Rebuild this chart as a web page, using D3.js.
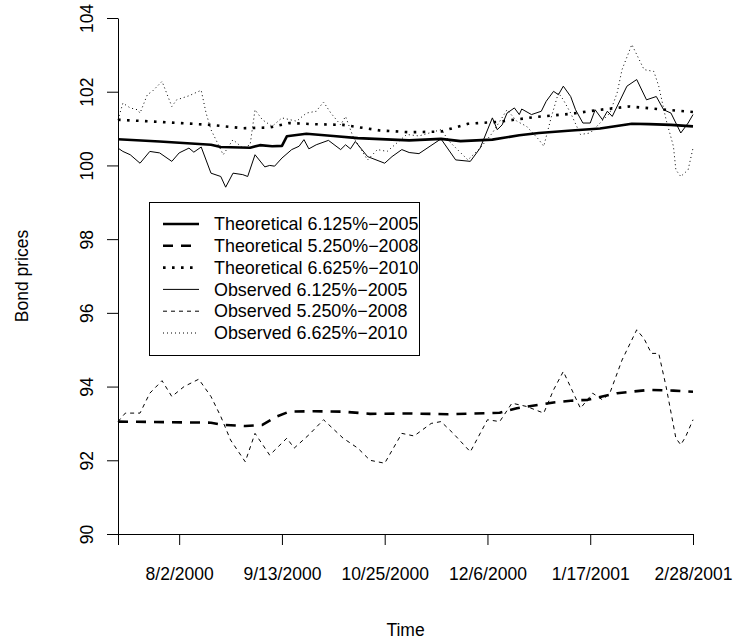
<!DOCTYPE html>
<html>
<head>
<meta charset="utf-8">
<script src="https://cdn.jsdelivr.net/npm/d3@7"></script>
<style>
  html, body { margin: 0; padding: 0; background: #fff; }
  svg text { font-family: "Liberation Sans", Arial, Helvetica, sans-serif; fill: #000; }
</style>
</head>
<body>
<svg id="chart" width="733" height="643"></svg>
<script>
// Bond prices, July 2000 – February 2001: model (theoretical) vs observed prices

const dateRange = ["2000-07-08", "2001-02-28"];
const yTicks = [90, 92, 94, 96, 98, 100, 102, 104];
const xTickDates = ["2000-07-08", "2000-08-02", "2000-09-13", "2000-10-25", "2000-12-06", "2001-01-17", "2001-02-28"];
const xTickLabels = ["", "8/2/2000", "9/13/2000", "10/25/2000", "12/6/2000", "1/17/2001", "2/28/2001"];

const legendLabels = [
  "Theoretical 6.125%\u22122005",
  "Theoretical 5.250%\u22122008",
  "Theoretical 6.625%\u22122010",
  "Observed 6.125%\u22122005",
  "Observed 5.250%\u22122008",
  "Observed 6.625%\u22122010"
];

// Theoretical prices
const theo2005 = [
  ["2000-07-08",100.71],["2000-07-25",100.65],["2000-08-15",100.56],["2000-08-19",100.50],
  ["2000-08-31",100.48],["2000-09-04",100.55],["2000-09-09",100.52],["2000-09-13",100.53],
  ["2000-09-15",100.79],["2000-09-23",100.86],["2000-10-04",100.80],["2000-10-14",100.74],
  ["2000-11-04",100.68],["2000-11-17",100.72],["2000-11-25",100.66],["2000-12-08",100.70],
  ["2000-12-19",100.82],["2000-12-27",100.88],["2001-01-08",100.94],["2001-01-21",101.00],
  ["2001-02-03",101.13],["2001-02-10",101.12],["2001-02-19",101.10],["2001-02-28",101.06]
];
const theo2008 = [
  ["2000-07-08",93.05],["2000-08-15",93.02],["2000-08-20",92.96],["2000-08-29",92.93],
  ["2000-09-05",92.96],["2000-09-11",93.19],["2000-09-16",93.32],["2000-09-26",93.33],
  ["2000-10-08",93.32],["2000-10-19",93.26],["2000-11-04",93.27],["2000-11-20",93.25],
  ["2000-12-11",93.29],["2000-12-18",93.41],["2001-01-02",93.57],["2001-01-10",93.62],
  ["2001-01-16",93.64],["2001-01-28",93.82],["2001-02-10",93.91],["2001-02-20",93.89],
  ["2001-02-28",93.86]
];
const theo2010 = [
  ["2000-07-08",101.24],["2000-07-28",101.17],["2000-08-15",101.10],["2000-08-28",101.01],
  ["2000-09-08",101.03],["2000-09-16",101.15],["2000-09-26",101.12],["2000-10-08",101.10],
  ["2000-10-23",100.95],["2000-11-04",100.90],["2000-11-17",100.92],["2000-11-28",101.13],
  ["2000-12-10",101.18],["2000-12-25",101.31],["2001-01-09",101.40],["2001-01-21",101.51],
  ["2001-02-02",101.60],["2001-02-17",101.51],["2001-02-28",101.45]
];

// Observed market prices
const obs2005 = [
  ["2000-07-08",100.47],["2000-07-10",100.38],["2000-07-13",100.29],["2000-07-17",100.06],
  ["2000-07-21",100.38],["2000-07-25",100.34],["2000-07-30",100.11],["2000-08-02",100.34],
  ["2000-08-06",100.47],["2000-08-08",100.36],["2000-08-11",100.50],["2000-08-15",99.79],
  ["2000-08-19",99.70],["2000-08-21",99.41],["2000-08-24",99.79],["2000-08-28",99.75],
  ["2000-08-30",99.70],["2000-09-02",100.29],["2000-09-06",99.96],["2000-09-08",100.00],
  ["2000-09-10",99.98],["2000-09-13",100.20],["2000-09-17",100.43],["2000-09-20",100.52],
  ["2000-09-22",100.70],["2000-09-24",100.45],["2000-09-27",100.56],["2000-10-02",100.68],
  ["2000-10-07",100.43],["2000-10-09",100.56],["2000-10-11",100.45],["2000-10-13",100.65],
  ["2000-10-18",100.24],["2000-10-25",100.06],["2000-10-28",100.24],["2000-11-01",100.43],
  ["2000-11-04",100.35],["2000-11-08",100.32],["2000-11-17",100.72],["2000-11-23",100.15],
  ["2000-11-29",100.11],["2000-12-03",100.47],["2000-12-08",101.29],["2000-12-10",100.97],
  ["2000-12-12",101.10],["2000-12-14",101.42],["2000-12-17",101.56],["2000-12-19",101.38],
  ["2000-12-20",101.53],["2000-12-24",101.38],["2000-12-28",101.47],["2000-12-30",101.74],
  ["2001-01-02",102.01],["2001-01-04",101.92],["2001-01-06",102.15],["2001-01-09",101.87],
  ["2001-01-11",101.51],["2001-01-14",101.15],["2001-01-17",101.15],["2001-01-19",101.51],
  ["2001-01-22",101.24],["2001-01-24",101.47],["2001-01-26",101.33],["2001-02-01",102.15],
  ["2001-02-05",102.33],["2001-02-09",101.78],["2001-02-13",101.87],["2001-02-16",101.51],
  ["2001-02-19",101.42],["2001-02-23",100.88],["2001-02-26",101.15],["2001-02-28",101.38]
];
const obs2008 = [
  ["2000-07-08",93.05],["2000-07-11",93.28],["2000-07-17",93.28],["2000-07-21",93.82],
  ["2000-07-26",94.16],["2000-07-30",93.73],["2000-08-04",94.00],["2000-08-10",94.20],
  ["2000-08-15",93.73],["2000-08-19",93.19],["2000-08-23",92.55],["2000-08-29",91.96],
  ["2000-09-02",92.73],["2000-09-08",92.14],["2000-09-15",92.60],["2000-09-18",92.33],
  ["2000-09-24",92.69],["2000-09-30",93.10],["2000-10-08",92.60],["2000-10-14",92.33],
  ["2000-10-19",92.00],["2000-10-25",91.92],["2000-11-01",92.73],["2000-11-06",92.66],
  ["2000-11-13",93.00],["2000-11-17",93.05],["2000-11-22",92.73],["2000-11-29",92.23],
  ["2000-12-06",93.10],["2000-12-11",93.05],["2000-12-16",93.55],["2000-12-22",93.46],
  ["2000-12-29",93.28],["2001-01-02",93.91],["2001-01-06",94.41],["2001-01-13",93.41],
  ["2001-01-18",93.82],["2001-01-22",93.64],["2001-01-25",93.82],["2001-01-30",94.72],
  ["2001-02-05",95.54],["2001-02-08",95.30],["2001-02-11",94.90],["2001-02-14",94.90],
  ["2001-02-17",94.00],["2001-02-21",92.60],["2001-02-23",92.42],["2001-02-25",92.64],
  ["2001-02-28",93.10]
];
const obs2010 = [
  ["2000-07-08",101.24],["2000-07-10",101.69],["2000-07-13",101.56],["2000-07-16",101.51],
  ["2000-07-17",101.42],["2000-07-20",101.92],["2000-07-22",102.01],["2000-07-26",102.28],
  ["2000-07-30",101.60],["2000-08-01",101.78],["2000-08-06",101.89],["2000-08-11",102.04],
  ["2000-08-13",101.42],["2000-08-15",100.97],["2000-08-17",100.70],["2000-08-20",100.29],
  ["2000-08-24",100.70],["2000-08-28",100.47],["2000-08-31",100.56],["2000-09-02",101.51],
  ["2000-09-05",101.24],["2000-09-09",101.06],["2000-09-13",101.29],["2000-09-19",101.20],
  ["2000-09-23",101.42],["2000-09-27",101.47],["2000-09-30",101.72],["2000-10-03",101.42],
  ["2000-10-07",101.10],["2000-10-09",101.33],["2000-10-12",100.79],["2000-10-18",100.15],
  ["2000-10-22",100.43],["2000-10-26",100.38],["2000-10-30",100.61],["2000-11-03",100.84],
  ["2000-11-08",100.80],["2000-11-17",100.97],["2000-11-21",100.61],["2000-11-28",100.15],
  ["2000-12-03",100.47],["2000-12-08",100.88],["2000-12-14",101.51],["2000-12-18",101.20],
  ["2000-12-22",101.06],["2000-12-27",100.70],["2000-12-29",100.52],["2001-01-01",101.29],
  ["2001-01-04",101.97],["2001-01-06",101.78],["2001-01-09",101.42],["2001-01-13",100.84],
  ["2001-01-17",100.88],["2001-01-21",101.15],["2001-01-25",101.42],["2001-01-28",101.97],
  ["2001-01-30",102.60],["2001-02-03",103.28],["2001-02-08",102.60],["2001-02-12",102.55],
  ["2001-02-14",102.15],["2001-02-17",101.24],["2001-02-20",100.52],["2001-02-21",99.88],
  ["2001-02-23",99.70],["2001-02-26",99.88],["2001-02-28",100.47]
];

const parseDate = d3.timeParse("%Y-%m-%d");
const svg = d3.select("#chart");

const x = d3.scaleTime().domain(dateRange.map(parseDate)).range([118, 693]);
const y = d3.scaleLinear().domain([90, 104]).range([534, 18]);

// line styles: [width, dasharray]
const series = [
  { data: theo2005, width: 2.6, dash: null },
  { data: theo2008, width: 2.6, dash: "10,8" },
  { data: theo2010, width: 2.6, dash: "2.6,6.4" },
  { data: obs2005,  width: 1,   dash: null },
  { data: obs2008,  width: 1,   dash: "4,4" },
  { data: obs2010,  width: 1,   dash: "1,3" }
];

const line = d3.line()
  .x(d => x(parseDate(d[0])))
  .y(d => y(d[1]));

svg.append("g")
  .selectAll("path")
  .data(series)
  .join("path")
  .attr("d", s => line(s.data))
  .attr("fill", "none")
  .attr("stroke", "#000")
  .attr("stroke-width", s => s.width)
  .attr("stroke-dasharray", s => s.dash)
  .attr("stroke-linejoin", "round");

// y axis (labels parallel to the axis)
const yAxis = svg.append("g")
  .attr("transform", "translate(118,0)")
  .call(d3.axisLeft(y).tickValues(yTicks).tickSize(11).tickSizeOuter(0).tickFormat(d3.format("d")));
yAxis.selectAll("text")
  .attr("transform", "rotate(-90)")
  .attr("x", 0)
  .attr("y", -25)
  .attr("dy", 0)
  .attr("text-anchor", "middle")
  .style("font-size", "17.5px");

// x axis
const xAxis = svg.append("g")
  .attr("transform", "translate(0,534)")
  .call(d3.axisBottom(x)
    .tickValues(xTickDates.map(parseDate))
    .tickSize(11).tickSizeOuter(0)
    .tickFormat((d, i) => xTickLabels[i]));
xAxis.selectAll("text")
  .attr("y", 46)
  .attr("dy", 0)
  .style("font-size", "17.5px");

svg.selectAll(".domain, .tick line").attr("stroke", "#000").attr("stroke-width", 1);

// axis titles
svg.append("text")
  .attr("x", 405.5).attr("y", 636)
  .attr("text-anchor", "middle")
  .style("font-size", "17.5px")
  .text("Time");
svg.append("text")
  .attr("transform", "translate(28,276) rotate(-90)")
  .attr("text-anchor", "middle")
  .style("font-size", "17.5px")
  .text("Bond prices");

// legend
const legend = svg.append("g");
legend.append("rect")
  .attr("x", 149.5).attr("y", 202.5)
  .attr("width", 270).attr("height", 153)
  .attr("fill", "#fff").attr("stroke", "#000");
const rowY = i => 224 + i * 21.8;
legend.selectAll("line")
  .data(series)
  .join("line")
  .attr("x1", 163).attr("x2", 199)
  .attr("y1", (d, i) => rowY(i)).attr("y2", (d, i) => rowY(i))
  .attr("stroke", "#000")
  .attr("stroke-width", s => s.width)
  .attr("stroke-dasharray", s => s.dash);
legend.selectAll("text")
  .data(legendLabels)
  .join("text")
  .attr("x", 214)
  .attr("y", (d, i) => rowY(i))
  .attr("dy", "0.35em")
  .style("font-size", "17.9px")
  .text(d => d);
</script>
</body>
</html>
